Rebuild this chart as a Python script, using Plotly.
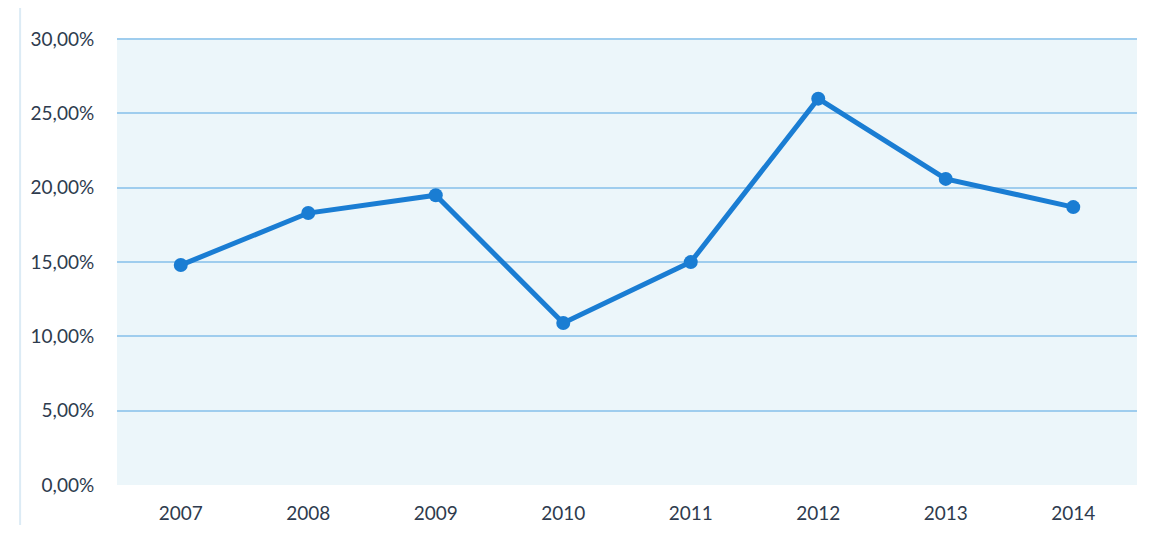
import plotly.graph_objects as go

BG_PLOT = '#ECF6FA'
GRID_COLOR = '#9FCDEE'
LINE_COLOR = '#1A7DD3'
TEXT_COLOR = '#2E3B4E'

years = ['2007', '2008', '2009', '2010', '2011', '2012', '2013', '2014']
rates = [0.148, 0.183, 0.195, 0.109, 0.150, 0.260, 0.206, 0.187]
y_ticks = [0, 0.05, 0.10, 0.15, 0.20, 0.25, 0.30]

fig = go.Figure(
    go.Scatter(
        x=years,
        y=rates,
        mode='lines+markers',
        line=dict(color=LINE_COLOR, width=5),
        marker=dict(color=LINE_COLOR, size=14),
        showlegend=False
    )
)

# page body adds 8px on each side, so keep the figure inside the window
fig.update_layout(
    width=1136,
    height=517,
    paper_bgcolor='white',
    plot_bgcolor=BG_PLOT,
    separators=',.',
    font=dict(family='Lato, Open Sans, sans-serif', size=19, color=TEXT_COLOR),
    margin=dict(l=109, r=7, t=30, b=40),
    xaxis=dict(
        type='category',
        range=[-0.5, 7.5],
        automargin=False,
        showgrid=False,
        zeroline=False,
        showline=False,
        ticks='outside',
        ticklen=11,
        tickcolor='rgba(0,0,0,0)',
    ),
    yaxis=dict(
        range=[0, 0.3008],
        tickvals=y_ticks,
        tickformat='.2%',
        automargin=False,
        showgrid=True,
        gridcolor=GRID_COLOR,
        gridwidth=1.5,
        zeroline=False,
        showline=False,
        ticks='outside',
        ticklen=18,
        tickcolor='rgba(0,0,0,0)',
    ),
)

# faint left edge of the scanned page
fig.add_shape(type='line', xref='paper', yref='paper', x0=-0.095, x1=-0.095, y0=-0.1, y1=1.07,
              line=dict(color='#DCEBF5', width=2))

fig.write_html("out.html")
